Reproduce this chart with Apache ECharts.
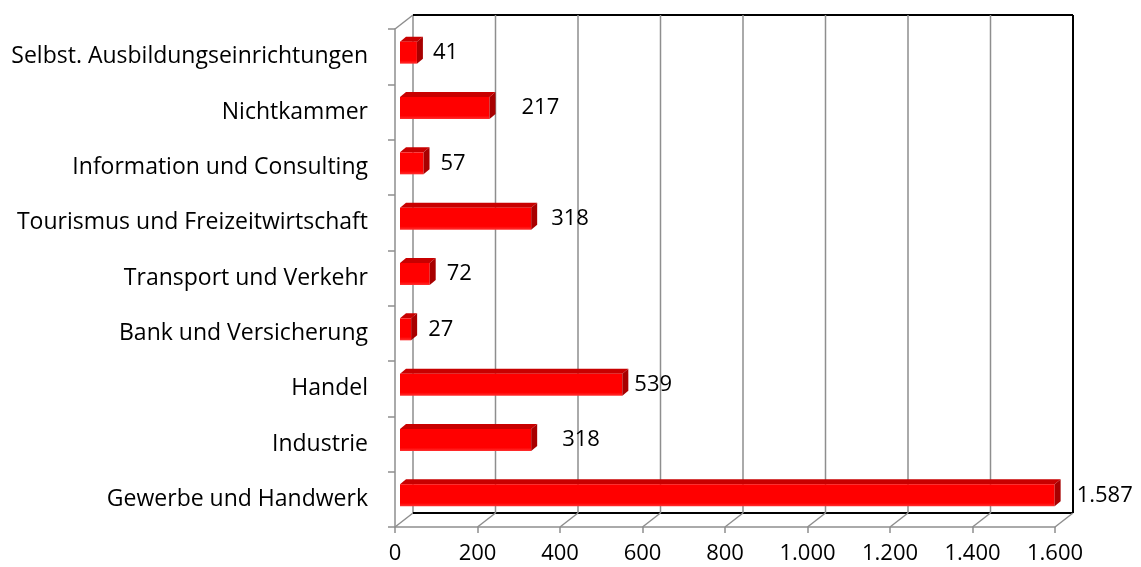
<!DOCTYPE html>
<html>
<head>
<meta charset="utf-8">
<script src="https://cdn.jsdelivr.net/npm/echarts@6/dist/echarts.min.js"></script>
<style>
  html, body { margin: 0; padding: 0; background: #fff; }
  #chart { width: 1141px; height: 567px; }
</style>
</head>
<body>
<div id="chart"></div>
<script>
// categories, top to bottom
var categories = [
  'Selbst. Ausbildungseinrichtungen',
  'Nichtkammer',
  'Information und Consulting',
  'Tourismus und Freizeitwirtschaft',
  'Transport und Verkehr',
  'Bank und Versicherung',
  'Handel',
  'Industrie',
  'Gewerbe und Handwerk'
]
var values = [41, 217, 57, 318, 72, 27, 539, 318, 1587]
var xTicks = [0, 200, 400, 600, 800, 1000, 1200, 1400, 1600]

// label distance from the bar end (labels were moved by hand in the original)
var labelGap = [10, 26, 11, 14, 11, 11, 6, 25, 16]

var FONT = '"Open Sans", sans-serif'
var GRID_COLOR = '#8e8e8e'
var DEPTH = [18, -14] // wall depth offset

function deNum(v) {
  return String(v).replace(/\B(?=(\d{3})+(?!\d))/g, '.')
}

var chart = echarts.init(document.getElementById('chart'))

function renderBar(params, api) {
  var val = api.value(0)
  var cat = api.value(1)
  var start = api.coord([0, cat])
  var end = api.coord([val, cat])
  var h = 22
  var ox = 5, oy = -4
  var dx = 6, dy = -5
  var x0 = start[0] + ox
  var x1 = end[0] + ox
  var yT = start[1] + oy - h / 2
  var yB = yT + h
  return {
    type: 'group',
    children: [
      {
        type: 'polygon',
        shape: { points: [[x0, yT], [x1, yT], [x1 + dx, yT + dy], [x0 + dx, yT + dy]] },
        style: { fill: '#c80000' }
      },
      {
        type: 'rect',
        shape: { x: x0, y: yT, width: x1 - x0, height: h },
        style: {
          fill: new echarts.graphic.LinearGradient(0, 0, 0, 1, [
            { offset: 0, color: '#ff0000' },
            { offset: 0.85, color: '#ff0000' },
            { offset: 1, color: '#ff3030' }
          ])
        }
      },
      {
        type: 'polygon',
        shape: { points: [[x1, yT], [x1 + dx, yT + dy], [x1 + dx, yB + dy], [x1, yB]] },
        style: { fill: '#a80000' }
      },
      {
        type: 'text',
        x: x1 + dx + labelGap[params.dataIndex],
        y: yT + h / 2,
        style: {
          text: deNum(val),
          fill: '#000',
          font: '22px ' + FONT,
          verticalAlign: 'middle',
          align: 'left'
        }
      }
    ]
  }
}

function line(x1, y1, x2, y2, color, w) {
  return {
    type: 'line',
    shape: { x1: x1, y1: y1, x2: x2, y2: y2 },
    style: { stroke: color, lineWidth: w }
  }
}

// back wall, floor diagonals and edges, all placed from the axis scale
function renderFrame(params, api) {
  var v = api.value(0)
  var band = api.size([0, 1])[1]
  var bottom = api.coord([v, categories.length - 1])
  var top = api.coord([v, 0])
  var yb = bottom[1] + band / 2
  var yt = top[1] - band / 2
  var bx = bottom[0] + DEPTH[0]
  var last = params.dataIndex === xTicks.length - 1
  var kids = [
    line(bottom[0], yb, bx, yb + DEPTH[1], GRID_COLOR, 1.5),
    line(bx, yt + DEPTH[1], bx, yb + DEPTH[1], last ? '#000' : GRID_COLOR, last ? 2 : 1.5)
  ]
  if (params.dataIndex === 0) {
    var end = api.coord([xTicks[xTicks.length - 1], 0])[0] + DEPTH[0]
    kids.push(line(top[0], yt, top[0] + DEPTH[0], yt + DEPTH[1], GRID_COLOR, 1.5))
    kids.push(line(bx, yt + DEPTH[1], end, yt + DEPTH[1], '#000', 2))
    kids.push(line(bx, yb + DEPTH[1], end, yb + DEPTH[1], '#000', 2))
  }
  return { type: 'group', children: kids }
}

chart.setOption({
  animation: false,
  textStyle: { fontFamily: FONT },
  grid: { left: 395, right: 86, top: 29, bottom: 40 },
  xAxis: {
    type: 'value',
    min: 0,
    max: 1600,
    interval: 200,
    axisLine: { show: true, lineStyle: { color: GRID_COLOR, width: 1.5 } },
    axisTick: { show: true, length: 6, lineStyle: { color: GRID_COLOR, width: 1.5 } },
    axisLabel: { color: '#000', fontSize: 22, margin: 16, formatter: deNum },
    splitLine: { show: false }
  },
  yAxis: {
    type: 'category',
    inverse: true,
    data: categories,
    axisLine: { show: true, lineStyle: { color: GRID_COLOR, width: 1.5 } },
    axisTick: { show: true, length: 7, lineStyle: { color: GRID_COLOR, width: 1.5 } },
    axisLabel: { color: '#000', fontSize: 23, margin: 27 }
  },
  series: [
    {
      type: 'custom',
      name: 'frame',
      renderItem: renderFrame,
      data: xTicks.map(function (t) { return [t, 0] }),
      z: 1
    },
    {
      type: 'custom',
      name: 'Anzahl',
      renderItem: renderBar,
      encode: { x: 0, y: 1 },
      data: values.map(function (v, i) { return [v, i] }),
      z: 5
    }
  ]
})
</script>
</body>
</html>
